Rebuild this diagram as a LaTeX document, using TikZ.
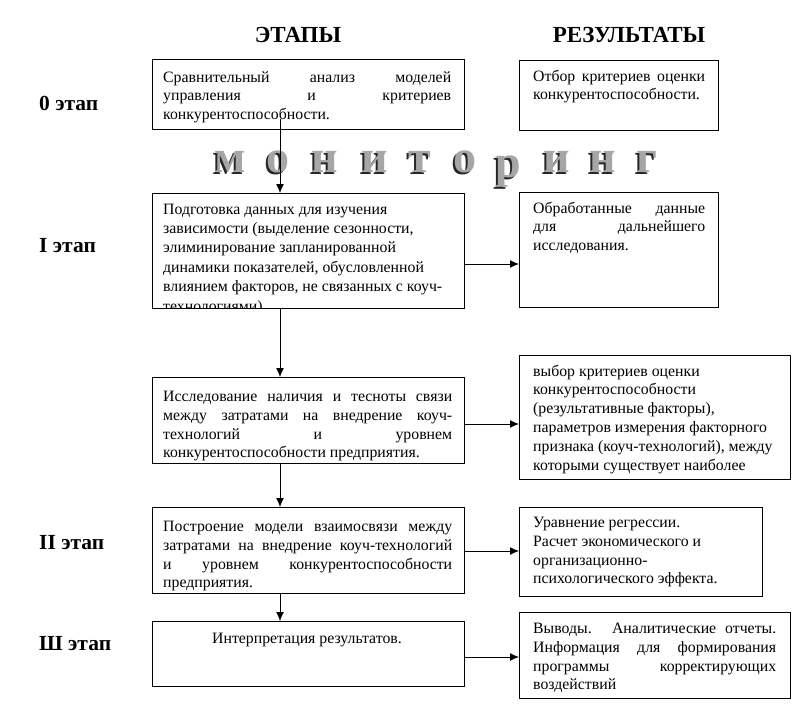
\documentclass[tikz,border=0pt]{standalone}
\usepackage{fontspec}
\setmainfont{Liberation Serif}
\usetikzlibrary{arrows.meta}

% justified line of a box
\newcommand{\jl}[1]{\makebox[\linewidth][s]{#1}}

\begin{document}
\begin{tikzpicture}[
    x=1pt, y=-1pt,
    font=\fontsize{15.8}{18.8}\selectfont
]
\tikzset{
    stagebox/.style = {draw=black, line width=1pt, anchor=north west, inner sep=0pt},
    boxtext/.style = {anchor=base west, inner sep=0pt},
    head/.style = {font=\fontsize{23}{27}\selectfont\bfseries, anchor=base, inner sep=0pt},
    stagelbl/.style = {font=\fontsize{21.5}{25}\selectfont\bfseries, anchor=base west, inner sep=0pt},
    monl/.style = {font=\fontsize{46}{50}\selectfont\bfseries, anchor=base, inner sep=0pt},
    edgen/.style = {-{Latex[length=9pt,width=8pt]}, line width=1pt}
}
\useasboundingbox (0,0) rectangle (811,716);

% headers and stage labels
\node[head] at (298,42) (hst) {ЭТАПЫ};
\node[head] at (629,42) (hres) {РЕЗУЛЬТАТЫ};
\node[stagelbl] at (39,110) (l0) {0 этап};
\node[stagelbl] at (39,252) (l1) {I этап};
\node[stagelbl] at (39,549) (l2) {II этап};
\node[stagelbl] at (39,650) (l3) {Ш этап};

% monitoring
\foreach \ch/\x/\dy [count=\i] in {м/230/0, о/278/0, н/325/0, и/375/0, т/420/0,
                                    о/465/0, р/508/5, и/557/0, н/603/0, г/647/0} {
    \node[monl, text=black!85] at (\x-2,174+\dy) (mons\i) {\ch};
    \node[monl, text=black!35] at (\x,172+\dy) (mon\i) {\ch};
}

% left column
\node[stagebox, minimum width=312pt, minimum height=70pt]  at (152,59)  (s0) {};
\node[stagebox, minimum width=312pt, minimum height=115pt] at (152,193) (s1) {};
\node[stagebox, minimum width=312pt, minimum height=86pt]  at (152,377) (s2) {};
\node[stagebox, minimum width=312pt, minimum height=86pt]  at (152,507) (s3) {};
\node[stagebox, minimum width=312pt, minimum height=65pt]  at (152,621) (s4) {};

\node[boxtext] at (163,82) (t0) {\parbox[t]{288pt}{\jl{Сравнительный анализ моделей}\\
    \jl{управления и критериев}\\ конкурентоспособности.}};
\begin{scope}
\clip (152,193) rectangle (464,308);
\node[boxtext, font=\fontsize{15.8}{19.4}\selectfont] at (163,214) (t1) {\parbox[t]{288pt}{Подготовка данных для изучения\\
    зависимости (выделение сезонности,\\ элиминирование запланированной\\
    динамики показателей, обусловленной\\ влиянием факторов, не связанных с коуч-\\
    технологиями)}};
\end{scope}
\node[boxtext] at (163,401.5) (t2) {\parbox[t]{289pt}{\jl{Исследование наличия и тесноты связи}\\
    \jl{между затратами на внедрение коуч-}\\ \jl{технологий и уровнем}\\
    конкурентоспособности предприятия.}};
\node[boxtext] at (163,531.5) (t3) {\parbox[t]{289pt}{\jl{Построение модели взаимосвязи между}\\
    \jl{затратами на внедрение коуч-технологий}\\ \jl{и уровнем конкурентоспособности}\\
    предприятия.}};
\node[anchor=base, inner sep=0pt] at (307,643) (t4) {Интерпретация результатов.};

% right column
\node[stagebox, minimum width=199pt, minimum height=70pt]  at (519,60)  (r0) {};
\node[stagebox, minimum width=199pt, minimum height=115pt] at (519,192) (r1) {};
\node[stagebox, minimum width=271pt, minimum height=124pt] at (519,355) (r2) {};
\node[stagebox, minimum width=243pt, minimum height=89pt]  at (519,507) (r3) {};
\node[stagebox, minimum width=271pt, minimum height=86pt]  at (519,612) (r4) {};

\node[boxtext] at (533,81) (u0) {\parbox[t]{172pt}{\jl{Отбор критериев оценки}\\
    конкурентоспособности.}};
\node[boxtext] at (533,213) (u1) {\parbox[t]{172pt}{\jl{Обработанные данные}\\
    \jl{для дальнейшего}\\ исследования.}};
\node[boxtext] at (533,376) (u2) {\parbox[t]{250pt}{выбор критериев оценки\\
    конкурентоспособности\\ (результативные факторы),\\
    параметров измерения факторного\\ признака (коуч-технологий), между\\
    которыми существует наиболее}};
\node[boxtext] at (533,527.5) (u3) {\parbox[t]{220pt}{Уравнение регрессии.\\
    Расчет экономического и\\ организационно-\\ психологического эффекта.}};
\node[boxtext] at (533,633.5) (u4) {\parbox[t]{243pt}{\jl{Выводы. Аналитические отчеты.}\\
    \jl{Информация для формирования}\\ \jl{программы корректирующих}\\ воздействий}};

% connectors
\coordinate (a0) at (280,119);
\draw[edgen] (a0) -- (s1.north -| a0);
\draw[edgen] (s1.south -| a0) -- (s2.north -| a0);
\draw[edgen] (s2.south -| a0) -- (s3.north -| a0);
\draw[edgen] (s3.south -| a0) -- (s4.north -| a0);
\draw[edgen] (s1.east |- 0,264) -- (r1.west |- 0,264);
\draw[edgen] (s2.east |- 0,424) -- (r2.west |- 0,424);
\draw[edgen] (s3.east |- 0,551) -- (r3.west |- 0,551);
\draw[edgen] (s4.east |- 0,657) -- (r4.west |- 0,657);
\end{tikzpicture}
\end{document}
